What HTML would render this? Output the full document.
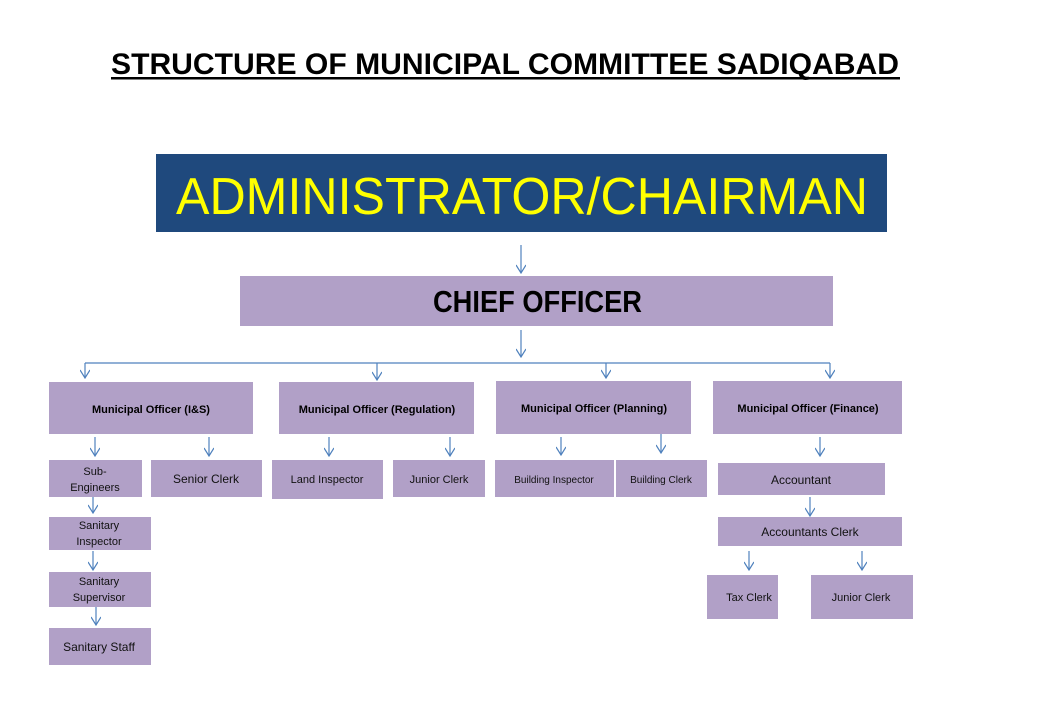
<!DOCTYPE html>
<html><head><meta charset="utf-8"><style>body{margin:0;background:#fff}svg{display:block}</style></head><body>
<svg width="1040" height="720" xmlns="http://www.w3.org/2000/svg" font-family="Liberation Sans, sans-serif">
<defs><marker id="a" markerWidth="10" markerHeight="10" refX="9" refY="5" orient="auto" markerUnits="userSpaceOnUse" viewBox="0 0 10 10"><path d="M1,0 L9,5 L1,10" fill="none" stroke="#4f81bd" stroke-width="1.2"/></marker></defs>
<text x="111" y="74" font-size="30" font-weight="bold" textLength="788" lengthAdjust="spacingAndGlyphs">STRUCTURE OF MUNICIPAL COMMITTEE SADIQABAD</text>
<rect x="111" y="77" width="789" height="2.5" fill="#000"/>
<rect x="156" y="154" width="731" height="78" fill="#1f497d"/>
<text x="176" y="214" font-size="52" fill="#ffff00" textLength="692" lengthAdjust="spacingAndGlyphs">ADMINISTRATOR/CHAIRMAN</text>
<rect x="240" y="276" width="593" height="50" fill="#b1a0c7"/>
<text x="433" y="312" font-size="31" font-weight="bold" textLength="209" lengthAdjust="spacingAndGlyphs">CHIEF OFFICER</text>
<g stroke="#4f81bd" stroke-width="1.2" fill="none">
<line x1="521" y1="245" x2="521" y2="273" marker-end="url(#a)"/>
<line x1="521" y1="330" x2="521" y2="357" marker-end="url(#a)"/>
<line x1="85" y1="363" x2="830" y2="363"/>
<line x1="85" y1="363" x2="85" y2="378" marker-end="url(#a)"/>
<line x1="377" y1="363" x2="377" y2="380" marker-end="url(#a)"/>
<line x1="606" y1="363" x2="606" y2="378" marker-end="url(#a)"/>
<line x1="830" y1="363" x2="830" y2="378" marker-end="url(#a)"/>
<line x1="95" y1="437" x2="95" y2="456" marker-end="url(#a)"/>
<line x1="209" y1="437" x2="209" y2="456" marker-end="url(#a)"/>
<line x1="329" y1="437" x2="329" y2="456" marker-end="url(#a)"/>
<line x1="450" y1="437" x2="450" y2="456" marker-end="url(#a)"/>
<line x1="561" y1="437" x2="561" y2="455" marker-end="url(#a)"/>
<line x1="661" y1="434" x2="661" y2="453" marker-end="url(#a)"/>
<line x1="820" y1="437" x2="820" y2="456" marker-end="url(#a)"/>
<line x1="810" y1="497" x2="810" y2="516" marker-end="url(#a)"/>
<line x1="93" y1="497" x2="93" y2="513" marker-end="url(#a)"/>
<line x1="93" y1="551" x2="93" y2="570" marker-end="url(#a)"/>
<line x1="96" y1="607" x2="96" y2="625" marker-end="url(#a)"/>
<line x1="749" y1="551" x2="749" y2="570" marker-end="url(#a)"/>
<line x1="862" y1="551" x2="862" y2="570" marker-end="url(#a)"/>
</g>
<g fill="#b1a0c7">
<rect x="49" y="382" width="204" height="52"/><rect x="279" y="382" width="195" height="52"/>
<rect x="496" y="381" width="195" height="53"/><rect x="713" y="381" width="189" height="53"/>
<rect x="49" y="460" width="93" height="37"/><rect x="151" y="460" width="111" height="37"/>
<rect x="272" y="460" width="111" height="39"/><rect x="393" y="460" width="92" height="37"/>
<rect x="495" y="460" width="119" height="37"/><rect x="616" y="460" width="91" height="37"/>
<rect x="718" y="463" width="167" height="32"/><rect x="718" y="517" width="184" height="29"/>
<rect x="707" y="575" width="71" height="44"/><rect x="811" y="575" width="102" height="44"/>
<rect x="49" y="517" width="102" height="33"/><rect x="49" y="572" width="102" height="35"/>
<rect x="49" y="628" width="102" height="37"/>
</g>
<g font-size="11" font-weight="bold" text-anchor="middle">
<text x="151" y="413">Municipal Officer (I&amp;S)</text>
<text x="377" y="413">Municipal Officer (Regulation)</text>
<text x="594" y="412">Municipal  Officer (Planning)</text>
<text x="808" y="412">Municipal  Officer (Finance)</text>
</g>
<g font-size="11" text-anchor="middle" fill="#111">
<text x="95" y="475">Sub-</text><text x="95" y="491">Engineers</text>
<text x="206" y="483" font-size="12">Senior Clerk</text>
<text x="327" y="483">Land Inspector</text>
<text x="439" y="483">Junior Clerk</text>
<text x="554" y="483" font-size="10">Building Inspector</text>
<text x="661" y="483" font-size="10">Building Clerk</text>
<text x="801" y="484" font-size="12">Accountant</text>
<text x="810" y="536" font-size="12">Accountants Clerk</text>
<text x="749" y="601">Tax Clerk</text>
<text x="861" y="601">Junior Clerk</text>
<text x="99" y="529">Sanitary</text><text x="99" y="545">Inspector</text>
<text x="99" y="585">Sanitary</text><text x="99" y="601">Supervisor</text>
<text x="99" y="651" font-size="12">Sanitary Staff</text>
</g>
</svg>
</body></html>
